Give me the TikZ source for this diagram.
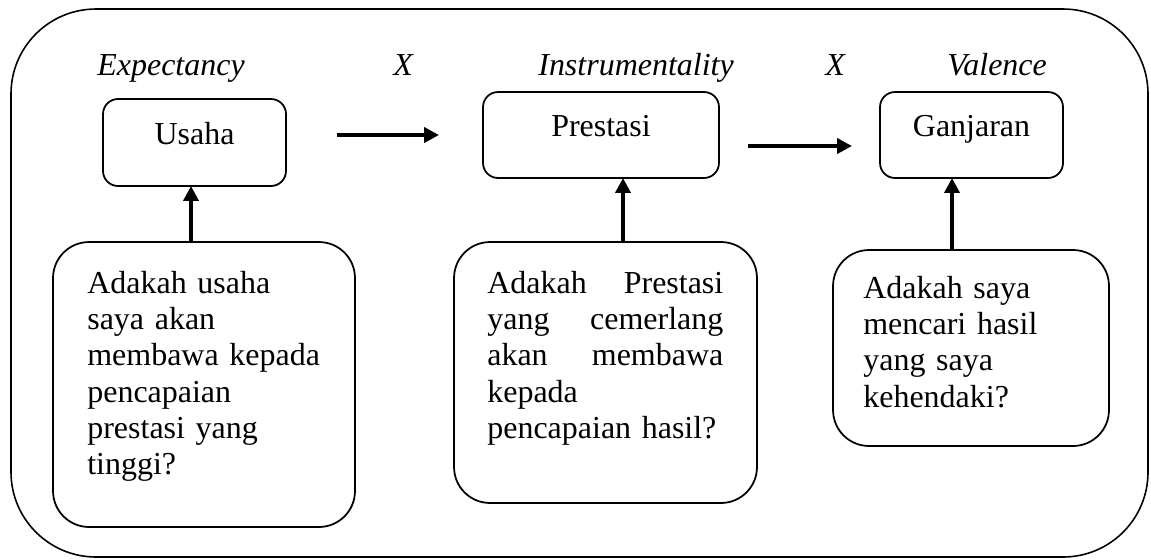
\documentclass[tikz,border=0pt]{standalone}
\usepackage{fontspec}
\setmainfont{Liberation Serif}
\usetikzlibrary{positioning}
\usetikzlibrary{arrows.meta}

\begin{document}
\begin{tikzpicture}[x=0.02cm,y=-0.02cm,font=\fontsize{18.2}{20.7}\selectfont,
	box/.style={draw=black,line width=1pt,rounded corners=.3cm,minimum width=3.66cm,minimum height=1.72cm,outer sep=0pt,text height=.42cm,text depth=.36cm},
	qbox/.style={draw=black,line width=1pt,rounded corners=.72cm,outer sep=0pt},
	qtxt/.style={anchor=base west,inner sep=0pt,align=left},
	lbl/.style={anchor=base west,inner sep=0pt,font=\fontsize{18.2}{20.7}\selectfont\itshape},
	flow/.style={-{Triangle[length=.3cm,width=.3cm]},line width=2.2pt}]
	\useasboundingbox (0,0) rectangle (1151,559);
	\draw[line width=.9pt,rounded corners=1.7cm] (11,9) rectangle (1148,557);

	\node [lbl] at (97,75) (lbl_exp) {Expectancy};
	\node [lbl] at (393,75) (lbl_x1) {X};
	\node [lbl] at (538,75) (lbl_ins) {Instrumentality};
	\node [lbl] at (825,75) (lbl_x2) {X};
	\node [lbl] at (947,75) (lbl_val) {Valence};

	\node [box,minimum height=1.74cm] at (194.5,142.5) (usaha) {Usaha};
	\node [box,minimum width=4.72cm] at (601,135) (prestasi) {Prestasi};
	\node [box] at (971.5,135) (ganjaran) {Ganjaran};

	\node [qbox,minimum width=6.04cm,minimum height=5.7cm] at (204,384.5) (q_usaha) {};
	\node [qtxt,text width=5cm] at (87,293) (q_usaha_txt) {Adakah usaha\\saya akan\\membawa kepada\\pencapaian\\prestasi yang\\tinggi?};

	\node [qbox,minimum width=6.06cm,minimum height=5.22cm] at (605.5,372.5) (q_prestasi) {};
	\node [qtxt,text width=4.72cm] at (487,293) (q_prestasi_txt) {Adakah\hfill Prestasi\\yang\hfill cemerlang\\akan\hfill membawa\\kepada\\pencapaian hasil?};

	\node [qbox,minimum width=5.52cm,minimum height=3.92cm] at (971,348) (q_ganjaran) {};
	\node [qtxt,text width=5cm] at (863,298) (q_ganjaran_txt) {Adakah saya\\mencari hasil\\yang saya\\kehendaki?};

	\coordinate [left=2.92cm of prestasi.west] (a1_s);
	\coordinate [left=.88cm of prestasi.west] (a1_e);
	\coordinate [below right=.22cm and .58cm of prestasi.east] (a2_s);
	\coordinate [below left=.22cm and .56cm of ganjaran.west] (a2_e);
	\draw[flow] (a1_s) -- (a1_e);
	\draw[flow] (a2_s) -- (a2_e);

	\coordinate [left=.07cm of usaha.south] (pin_usaha);
	\coordinate [right=.44cm of prestasi.south] (pin_prestasi);
	\coordinate [left=.39cm of ganjaran.south] (pin_ganjaran);
	\draw[flow] (pin_usaha|-q_usaha.north) -- (pin_usaha);
	\draw[flow] (pin_prestasi|-q_prestasi.north) -- (pin_prestasi);
	\draw[flow] (pin_ganjaran|-q_ganjaran.north) -- (pin_ganjaran);
\end{tikzpicture}
\end{document}
